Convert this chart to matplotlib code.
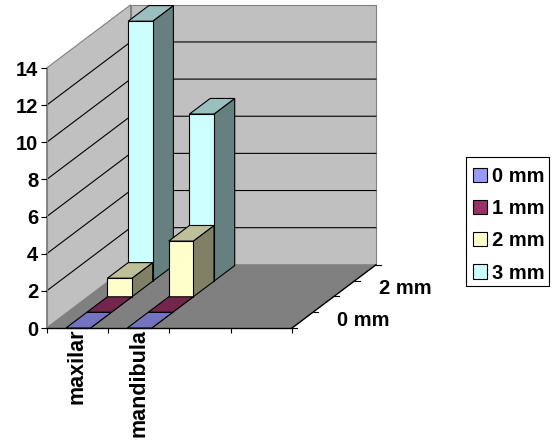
"""3D-look column chart (maxilar / mandibula by mm), drawn on a flat axes with an oblique depth offset."""
import matplotlib
matplotlib.use("Agg")
import matplotlib.pyplot as plt
from matplotlib.patches import Patch, Polygon, Rectangle

plt.rcParams["font.family"] = ["Liberation Sans", "DejaVu Sans"]
plt.rcParams["font.weight"] = "bold"
plt.rcParams["font.size"] = 14.5

categories = ["maxilar", "mandibula", "", ""]
series_names = ["0 mm", "1 mm", "2 mm", "3 mm"]
values_0mm = [0, 0]
values_1mm = [0, 0]
values_2mm = [1, 3]
values_3mm = [14, 9]
all_values = [values_0mm, values_1mm, values_2mm, values_3mm]
y_ticks = [0, 2, 4, 6, 8, 10, 12, 14]
depth_labels = {0: "0 mm", 2: "2 mm"}

face = ["#9999FF", "#993366", "#FFFFCC", "#CCFFFF"]
top = ["#7373BF", "#73264D", "#BFBF99", "#99BFBF"]
side = ["#666699", "#662244", "#808066", "#668080"]
WALL = "#C0C0C0"
FLOOR = "#808080"

# one depth slot, as an offset in category / value units
DX = 20.7 / 61.3
DY = 15.6 / 18.57
DEPTH = 4.05
BAR_X0 = 0.315
BAR_W = 0.4
LW = 0.8

fig = plt.figure(figsize=(5.58, 4.42), dpi=100, facecolor="white")
ax = fig.add_axes([46.7 / 558, (442 - 328) / 442, 245.3 / 558, 260 / 442], facecolor="none")
nc = len(categories)
ax.set_xlim(0, nc)
ax.set_ylim(0, y_ticks[-1])


def pt(c, d, v):
    return (c + d * DX, v + d * DY)


def poly(pts, color, z, edge="black", lw=LW):
    ax.add_patch(Polygon(pts, closed=True, facecolor=color, edgecolor=edge, lw=lw,
                         zorder=z, clip_on=False, joinstyle="miter"))


vmax = y_ticks[-1]
# walls and floor
poly([pt(0, 0, 0), pt(0, 0, vmax), pt(0, DEPTH, vmax), pt(0, DEPTH, 0)], WALL, 1, "#808080")
poly([pt(0, DEPTH, 0), pt(nc, DEPTH, 0), pt(nc, DEPTH, vmax), pt(0, DEPTH, vmax)], WALL, 1, "#808080")
poly([pt(0, 0, 0), pt(nc, 0, 0), pt(nc, DEPTH, 0), pt(0, DEPTH, 0)], FLOOR, 1, FLOOR)

# gridlines on side and back wall
for v in y_ticks[1:-1]:
    xs, ys = zip(pt(0, 0, v), pt(0, DEPTH, v), pt(nc, DEPTH, v))
    ax.plot(xs, ys, color="black", lw=0.8, zorder=2, clip_on=False)

# bars, back slot first so the nearer ones cover the farther ones
z = 3
for s in range(len(all_values) - 1, -1, -1):
    for c, v in enumerate(all_values[s]):
        x0 = c + BAR_X0
        x1 = x0 + BAR_W
        poly([pt(x1, s, 0), pt(x1, s + 1, 0), pt(x1, s + 1, v), pt(x1, s, v)], side[s], z)
        poly([pt(x0, s, v), pt(x1, s, v), pt(x1, s + 1, v), pt(x0, s + 1, v)], top[s], z)
        poly([pt(x0, s, 0), pt(x1, s, 0), pt(x1, s, v), pt(x0, s, v)], face[s], z)
        z += 1

# depth axis on the right edge of the floor
xs, ys = zip(pt(nc, 0, 0), pt(nc, DEPTH, 0))
ax.plot(xs, ys, color="black", lw=1.0, zorder=2, clip_on=False)
for s in range(5):
    x, y = pt(nc, s * DEPTH / 4, 0)
    ax.plot([x, x + 0.08], [y, y], color="black", lw=0.8, clip_on=False, zorder=2)
for s, name in depth_labels.items():
    x, y = pt(nc, s + 0.5, 0)
    ax.annotate(name, (x, y), xytext=(44, 0), textcoords="offset points",
                ha="center", va="center", annotation_clip=False)

for name in ["top", "right"]:
    ax.spines[name].set_visible(False)
ax.spines["left"].set_color("#808080")
ax.spines["left"].set_linewidth(0.8)
ax.spines["bottom"].set_linewidth(1.0)
ax.spines["left"].set_zorder(2)
ax.spines["bottom"].set_zorder(2)

ax.set_yticks(y_ticks)
ax.tick_params(axis="y", length=4.5, width=0.8, pad=1.5, color="black")
ax.set_xticks(range(nc + 1))
ax.set_xticklabels([])
ax.set_xticks([c + 0.5 for c in range(nc)], labels=categories, minor=True, rotation=90)
ax.tick_params(axis="x", which="major", length=3.6, width=0.8)
ax.tick_params(axis="x", which="minor", length=0, pad=0.5, labelsize=15.5)

# legend box drawn apart: the entries sit lower in it than a legend frame would put them
fig.add_artist(Rectangle((466 / 558, (442 - 286) / 442), 82.7 / 558, 128.7 / 442,
                         transform=fig.transFigure, facecolor="white", edgecolor="black", lw=0.8))
handles = [Patch(facecolor=f, edgecolor="black", lw=0.8, label=n) for f, n in zip(face, series_names)]
fig.legend(handles=handles, loc="upper left", bbox_to_anchor=(467 / 558, (442 - 161) / 442),
           bbox_transform=fig.transFigure, frameon=False, borderpad=0.3, borderaxespad=0,
           handlelength=0.71, handleheight=0.71, handletextpad=0.25, labelspacing=0.655)

fig.savefig("out.png", dpi=100)
